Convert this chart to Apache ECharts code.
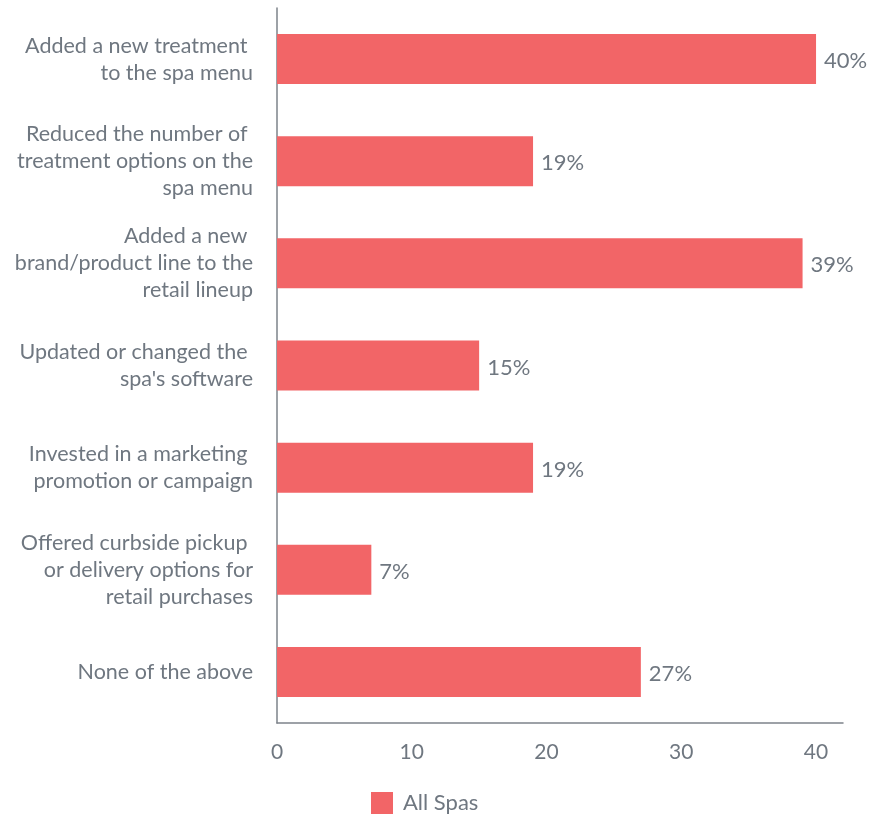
<!DOCTYPE html>
<html>
<head>
<meta charset="utf-8">
<script src="https://cdn.jsdelivr.net/npm/echarts@6/dist/echarts.min.js"></script>
<style>html,body{margin:0;padding:0;background:#fff}#c{width:870px;height:819px}</style>
</head>
<body>
<div id="c"></div>
<script>
const categories = [
  "Added a new treatment \nto the spa menu",
  "Reduced the number of \ntreatment options on the\nspa menu",
  "Added a new \nbrand/product line to the\nretail lineup",
  "Updated or changed the \nspa's software",
  "Invested in a marketing \npromotion or campaign",
  "Offered curbside pickup \nor delivery options for\nretail purchases",
  "None of the above"
];
const values = [40, 19, 39, 15, 19, 7, 27];
const xTicks = [0, 10, 20, 30, 40];
const seriesName = "All Spas";

const textColor = '#6f7780';
const chart = echarts.init(document.getElementById('c'));
chart.setOption({
  animation: false,
  textStyle: { fontFamily: 'Lato' },
  grid: { left: 277, right: 27, top: 8, bottom: 96 },
  legend: {
    data: [seriesName],
    top: 792,
    left: 371,
    padding: 0,
    itemWidth: 22,
    itemHeight: 22,
    itemGap: 10,
    icon: 'rect',
    textStyle: { fontFamily: 'Lato', fontSize: 22, color: textColor, padding: [0, 0, 0, 5] }
  },
  xAxis: {
    type: 'value',
    min: 0,
    max: 42,
    interval: 10,
    splitLine: { show: false },
    axisTick: { show: false },
    axisLine: { show: true, lineStyle: { color: '#7d838a', width: 1.5 } },
    axisLabel: {
      showMaxLabel: false,
      fontFamily: 'Lato', fontSize: 21, color: textColor, margin: 19,
      formatter: v => xTicks.includes(v) ? String(v) : ''
    }
  },
  yAxis: {
    type: 'category',
    inverse: true,
    data: categories,
    axisTick: { show: false },
    axisLine: { show: true, lineStyle: { color: '#7d838a', width: 1.5 } },
    axisLabel: {
      fontFamily: 'Lato', fontSize: 21.5, color: textColor, margin: 24,
      lineHeight: 27, align: 'right', padding: [4, 0, 0, 0]
    }
  },
  series: [{
    name: seriesName,
    type: 'bar',
    data: values,
    barWidth: 50,
    itemStyle: { color: '#f26567' },
    label: {
      show: true,
      position: 'right',
      distance: 8,
      offset: [0, 2],
      formatter: '{c}%',
      fontFamily: 'Lato', fontSize: 22, color: textColor
    }
  }]
});
</script>
</body>
</html>
